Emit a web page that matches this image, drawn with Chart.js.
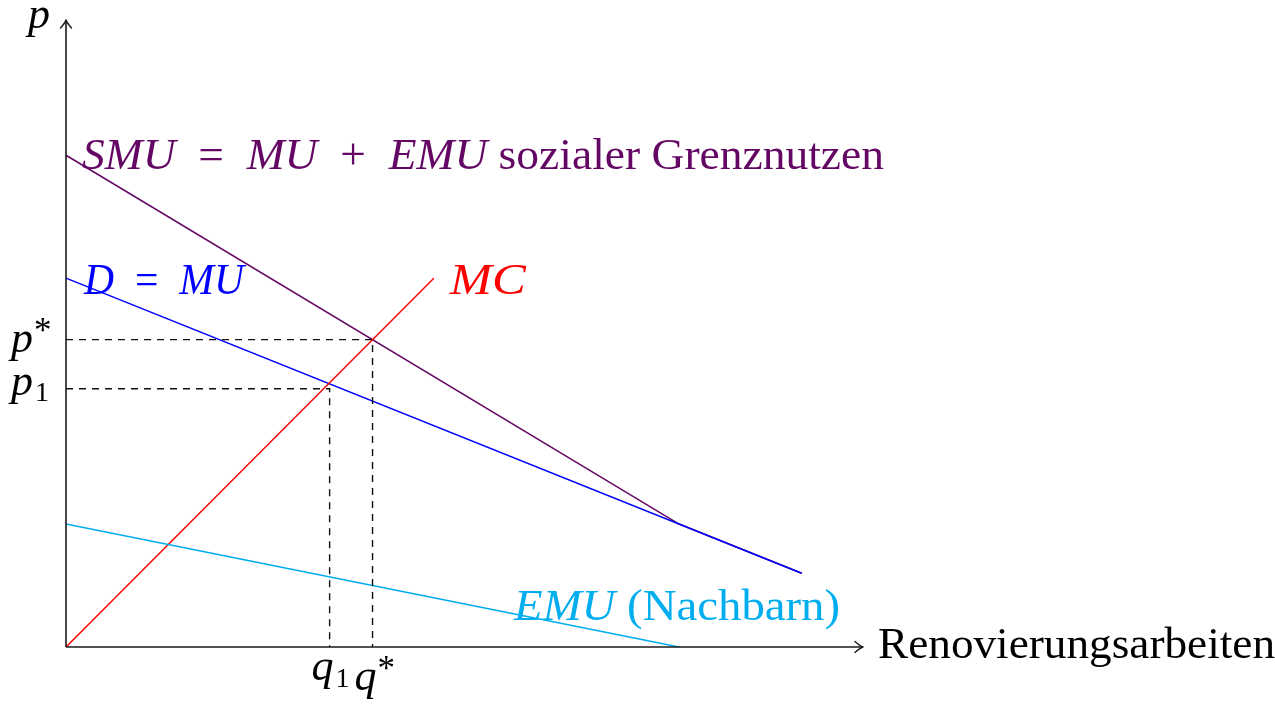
<!DOCTYPE html>
<html>
<head>
<meta charset="utf-8">
<style>
  html, body { margin: 0; padding: 0; background: #ffffff; }
  #wrap { width: 1275px; height: 708px; }
</style>
<script src="https://cdn.jsdelivr.net/npm/chart.js@4.4.1/dist/chart.umd.min.js"></script>
</head>
<body>
<div id="wrap"><canvas id="c" width="1275" height="708"></canvas></div>
<script>
// ---------- data (in diagram units) ----------
const axisMaxX = 13;
const axisMaxY = 10.2;

const smuX = [0, 10, 12];      // SMU = MU + EMU (kinked where EMU hits zero)
const smuY = [8, 2, 1.2];
const muX  = [0, 12];          // D = MU
const muY  = [6, 1.2];
const mcX  = [0, 6];           // MC
const mcY  = [0, 6];
const emuX = [0, 10];          // EMU (Nachbarn)
const emuY = [2, 0];

const qStar = 5,  pStar = 5;   // social optimum
const q1 = 4.3,   p1 = 4.2;    // market equilibrium

const xAxisTitle = 'Renovierungsarbeiten';
const yAxisTitle = 'p';
const priceTickLabels = [{ base: 'p', sup: '*' }, { base: 'p', sub: '1' }];
const quantityTickLabels = [{ base: 'q', sub: '1' }, { base: 'q', sup: '*' }];
const smuLabel = [['SMU', 1], ['\u2002=\u2002', 0], ['MU', 1], ['\u2002+\u2002', 0], ['EMU', 1], [' sozialer Grenznutzen', 0]];
const muLabel  = [['D', 1], ['\u2002=\u2002', 0], ['MU', 1]];
const mcLabel  = [['MC', 1]];
const emuLabel = [['EMU', 1], [' (Nachbarn)', 0]];

// ---------- styles ----------
const C_SMU = '#640664';
const C_MU  = '#0000ff';
const C_MC  = '#ff0000';
const C_EMU = '#00aeef';
const C_AX  = '#1a1a1a';
const FONT  = '"Liberation Serif", "DejaVu Serif", serif';

function pts(xs, ys) { return xs.map((x, i) => ({ x: x, y: ys[i] })); }

function line(label, data, color, width, dash) {
  return {
    label: label, data: data, showLine: true, borderColor: color, backgroundColor: color,
    borderWidth: width, pointRadius: 0, borderDash: dash || [], clip: false, tension: 0
  };
}

function fontStr(italic, size) { return (italic ? 'italic ' : '') + size + 'px ' + FONT; }

function drawRuns(ctx, runs, x, y, size, color, targetWidth) {
  ctx.save();
  ctx.fillStyle = color;
  ctx.textAlign = 'left';
  ctx.textBaseline = 'alphabetic';
  let total = 0;
  runs.forEach(r => { ctx.font = fontStr(r[1], size); total += ctx.measureText(r[0]).width; });
  const k = targetWidth ? targetWidth / total : 1;
  ctx.translate(x, y);
  ctx.scale(k, 1);
  let cx = 0;
  runs.forEach(r => {
    ctx.font = fontStr(r[1], size);
    ctx.fillText(r[0], cx, 0);
    cx += ctx.measureText(r[0]).width;
  });
  ctx.restore();
}

function drawSymbol(ctx, lab, x, y, size) {
  ctx.save();
  ctx.fillStyle = '#000';
  ctx.textAlign = 'left';
  ctx.textBaseline = 'alphabetic';
  ctx.font = fontStr(true, size);
  ctx.fillText(lab.base, x, y);
  const w = ctx.measureText(lab.base).width;
  if (lab.sup) {
    ctx.font = fontStr(false, Math.round(size * 0.8));
    ctx.fillText(lab.sup, x + w + 1, y - size * 0.22);
  }
  if (lab.sub) {
    ctx.font = fontStr(false, Math.round(size * 0.64));
    ctx.fillText(lab.sub, x + w + 2, y + size * 0.15);
  }
  ctx.restore();
}

function arrowHead(ctx, tx, ty, dir) {
  // TikZ-like "to" arrow tip, dir: 'right' or 'up'
  ctx.save();
  ctx.strokeStyle = C_AX;
  ctx.lineWidth = 1.4;
  ctx.lineCap = 'round';
  ctx.beginPath();
  if (dir === 'right') {
    ctx.moveTo(tx - 8, ty - 5.5); ctx.quadraticCurveTo(tx - 3, ty - 1, tx, ty);
    ctx.moveTo(tx - 8, ty + 5.5); ctx.quadraticCurveTo(tx - 3, ty + 1, tx, ty);
  } else {
    ctx.moveTo(tx - 5.5, ty + 8); ctx.quadraticCurveTo(tx - 1, ty + 3, tx, ty);
    ctx.moveTo(tx + 5.5, ty + 8); ctx.quadraticCurveTo(tx + 1, ty + 3, tx, ty);
  }
  ctx.stroke();
  ctx.restore();
}

const annotate = {
  id: 'annotate',
  afterDatasetsDraw(chart) {
    const ctx = chart.ctx;
    const X = v => chart.scales.x.getPixelForValue(v);
    const Y = v => chart.scales.y.getPixelForValue(v);
    const S = 44;

    // arrow tips
    arrowHead(ctx, X(axisMaxX), Y(0), 'right');
    arrowHead(ctx, X(0), Y(axisMaxY), 'up');

    // axis titles
    drawRuns(ctx, [[xAxisTitle, 0]], X(axisMaxX) + 15, Y(0) + 11, S, '#000', 397);
    drawSymbol(ctx, { base: yAxisTitle }, X(0) - 38, Y(axisMaxY) + 8, S);

    // price tick labels
    drawSymbol(ctx, priceTickLabels[0], X(0) - 55, Y(pStar) + 12, S);
    drawSymbol(ctx, priceTickLabels[1], X(0) - 55, Y(p1) + 6, S);
    // quantity tick labels
    drawSymbol(ctx, quantityTickLabels[0], X(q1) - 18, Y(0) + 33, S);
    drawSymbol(ctx, quantityTickLabels[1], X(qStar) - 18, Y(0) + 43, S);

    // curve labels
    drawRuns(ctx, smuLabel, X(smuX[0]) + 16, Y(smuY[0]) + 14, S, C_SMU, 802);
    drawRuns(ctx, muLabel,  X(muX[0]) + 18, Y(muY[0]) + 16, S, C_MU, 160);
    drawRuns(ctx, mcLabel,  X(mcX[1]) + 16, Y(mcY[1]) + 16, S, C_MC, 76);
    drawRuns(ctx, emuLabel, X(emuX[1]) - 165, Y(emuY[1]) - 27, S, C_EMU, 326);
  }
};

new Chart(document.getElementById('c'), {
  type: 'scatter',
  data: {
    datasets: [
      line('x-axis', pts([0, axisMaxX], [0, 0]), C_AX, 1.6),
      line('y-axis', pts([0, 0], [0, axisMaxY]), C_AX, 1.6),
      line('p* guide', pts([0, qStar, qStar], [pStar, pStar, 0]), '#111', 1.4, [7, 6]),
      line('p1 guide', pts([0, q1, q1], [p1, p1, 0]), '#111', 1.4, [7, 6]),
      line('EMU', pts(emuX, emuY), C_EMU, 1.5),
      line('MC', pts(mcX, mcY), C_MC, 1.5),
      line('D = MU', pts(muX, muY), C_MU, 1.5),
      line('SMU', pts(smuX, smuY), C_SMU, 1.5)
    ]
  },
  options: {
    responsive: false,
    animation: false,
    events: [],
    layout: { padding: { left: 66, right: 412, top: 20, bottom: 61 } },
    plugins: { legend: { display: false }, tooltip: { enabled: false } },
    scales: {
      x: { type: 'linear', min: 0, max: axisMaxX, display: false },
      y: { type: 'linear', min: 0, max: axisMaxY, display: false }
    }
  },
  plugins: [annotate]
});
</script>
</body>
</html>
